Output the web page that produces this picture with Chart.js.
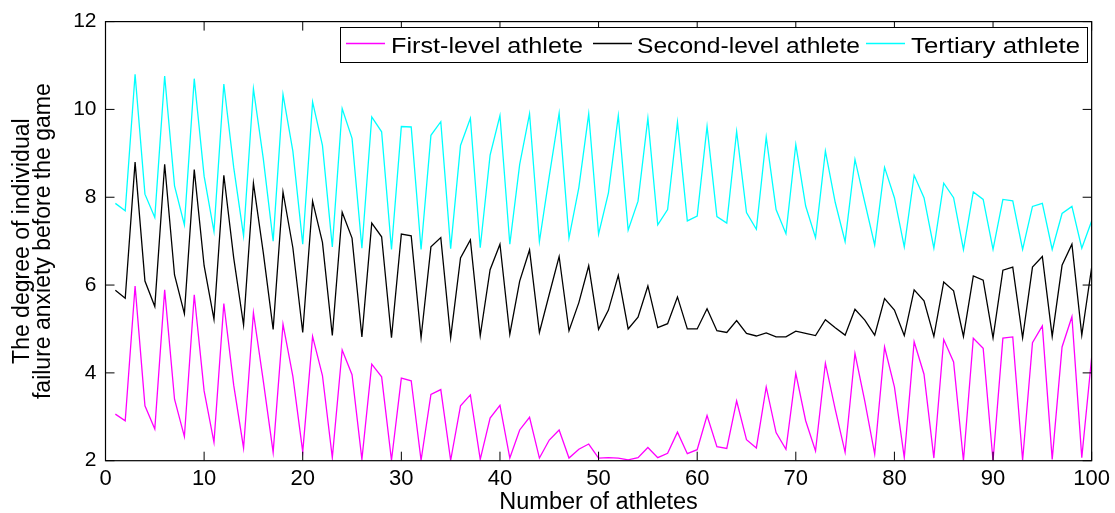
<!DOCTYPE html>
<html>
<head>
<meta charset="utf-8">
<script src="https://cdn.jsdelivr.net/npm/chart.js@4.4.0/dist/chart.umd.min.js"></script>
<style>
html,body{margin:0;padding:0;background:#fff;}
canvas{display:block;}
</style>
</head>
<body>
<canvas id="c" width="1115" height="513"></canvas>
<script>
// ---- data ----
const athletes = Array.from({length: 100}, (_, i) => i + 1);

const firstLevel = [
  3.06, 2.91, 5.98, 3.25, 2.72, 5.89, 3.40, 2.55, 5.78, 3.59,
  2.42, 5.58, 3.72, 2.29, 5.37, 3.82, 2.19, 5.11, 3.92, 2.20,
  4.83, 3.94, 2.07, 4.52, 3.96, 2.03, 4.20, 3.91, 2.01, 3.88,
  3.82, 2.01, 3.51, 3.62, 2.01, 3.25, 3.50, 2.03, 2.97, 3.26,
  2.06, 2.70, 2.99, 2.06, 2.47, 2.70, 2.06, 2.26, 2.38, 2.06,
  2.07, 2.06, 2.02, 2.07, 2.30, 2.07, 2.17, 2.65, 2.16, 2.25,
  3.03, 2.32, 2.28, 3.36, 2.48, 2.29, 3.68, 2.64, 2.26, 3.99,
  2.91, 2.22, 4.22, 3.17, 2.19, 4.44, 3.35, 2.15, 4.59, 3.68,
  2.07, 4.71, 3.97, 2.06, 4.76, 4.25, 2.00, 4.79, 4.56, 2.00,
  4.79, 4.82, 2.01, 4.69, 5.07, 2.03, 4.59, 5.28, 2.07, 4.35
];

const secondLevel = [
  5.88, 5.70, 8.80, 6.09, 5.51, 8.75, 6.23, 5.35, 8.63, 6.44,
  5.22, 8.50, 6.62, 5.09, 8.32, 6.74, 4.99, 8.12, 6.85, 4.92,
  7.91, 6.97, 4.85, 7.66, 7.07, 4.82, 7.41, 7.10, 4.80, 7.16,
  7.12, 4.80, 6.87, 7.08, 4.80, 6.62, 7.03, 4.85, 6.35, 6.93,
  4.88, 6.09, 6.80, 4.92, 5.79, 6.65, 4.96, 5.60, 6.44, 4.99,
  5.43, 6.22, 5.00, 5.27, 5.98, 5.03, 5.12, 5.73, 5.00, 5.00,
  5.46, 4.96, 4.92, 5.19, 4.90, 4.84, 4.91, 4.82, 4.82, 4.95,
  4.90, 4.85, 5.21, 5.03, 4.86, 5.45, 5.20, 4.86, 5.69, 5.43,
  4.85, 5.89, 5.64, 4.83, 6.07, 5.87, 4.83, 6.21, 6.11, 4.80,
  6.34, 6.41, 4.80, 6.41, 6.65, 4.83, 6.45, 6.93, 4.86, 6.40
];

const tertiary = [
  7.86, 7.69, 10.80, 8.07, 7.54, 10.76, 8.26, 7.37, 10.70, 8.48,
  7.22, 10.58, 8.68, 7.12, 10.47, 8.88, 7.00, 10.34, 9.05, 6.93,
  10.17, 9.18, 6.87, 10.02, 9.34, 6.84, 9.83, 9.49, 6.81, 9.61,
  9.60, 6.81, 9.41, 9.72, 6.83, 9.18, 9.80, 6.85, 8.96, 9.86,
  6.93, 8.75, 9.90, 6.99, 8.48, 9.91, 7.07, 8.22, 9.90, 7.16,
  8.10, 9.86, 7.25, 7.91, 9.80, 7.37, 7.72, 9.71, 7.46, 7.57,
  9.61, 7.56, 7.41, 9.50, 7.65, 7.27, 9.37, 7.72, 7.17, 9.20,
  7.80, 7.08, 9.05, 7.88, 6.99, 8.86, 7.88, 6.91, 8.68, 7.99,
  6.87, 8.50, 7.99, 6.84, 8.32, 7.99, 6.81, 8.12, 7.95, 6.81,
  7.95, 7.92, 6.81, 7.79, 7.86, 6.81, 7.63, 7.79, 6.84, 7.46
];

const seriesNames = ['First-level athlete', 'Second-level athlete', 'Tertiary athlete'];
const seriesColors = ['#ff00ff', '#000000', '#00ffff'];
const seriesValues = [firstLevel, secondLevel, tertiary];

const xTickValues = [0, 10, 20, 30, 40, 50, 60, 70, 80, 90, 100];
const yTickValues = [2, 4, 6, 8, 10, 12];

const xTitle = 'Number of athletes';
const yTitle = ['The degree of individual', 'failure anxiety before the game'];

// ---- rendering ----
const FONT = "'Liberation Sans', Arial, Helvetica, sans-serif";

const whiteBg = {
  id: 'whiteBg',
  beforeDraw(chart) {
    const ctx = chart.ctx;
    ctx.save();
    ctx.fillStyle = '#ffffff';
    ctx.fillRect(0, 0, chart.width, chart.height);
    ctx.restore();
  }
};

const boxAndLegend = {
  id: 'boxAndLegend',
  afterDraw(chart) {
    const ctx = chart.ctx;
    const {left, right, top, bottom} = chart.chartArea;
    const xs = chart.scales.x, ys = chart.scales.y;
    ctx.save();
    ctx.strokeStyle = '#000000';
    ctx.lineWidth = 1.2;
    ctx.strokeRect(left, top, right - left, bottom - top);
    const tl = 9;
    ctx.lineWidth = 1;
    ctx.beginPath();
    yTickValues.forEach(v => {
      const py = ys.getPixelForValue(v);
      ctx.moveTo(left, py); ctx.lineTo(left + tl, py);
      ctx.moveTo(right, py); ctx.lineTo(right - tl, py);
    });
    xTickValues.forEach(v => {
      const px = xs.getPixelForValue(v);
      ctx.moveTo(px, bottom); ctx.lineTo(px, bottom - tl);
      ctx.moveTo(px, top); ctx.lineTo(px, top + tl);
    });
    ctx.stroke();
    ctx.restore();

    // legend
    const box = {x: 340, y: 27, w: 747, h: 35};
    const items = [
      {lx: 346, tx: 391, tw: 192},
      {lx: 593, tx: 637, tw: 223},
      {lx: 866, tx: 911, tw: 169}
    ];
    ctx.save();
    ctx.fillStyle = '#ffffff';
    ctx.fillRect(box.x, box.y, box.w, box.h);
    ctx.strokeStyle = '#000000';
    ctx.lineWidth = 1;
    ctx.strokeRect(box.x + 0.5, box.y + 0.5, box.w, box.h);
    ctx.restore();
    for (let k = 0; k < items.length; k++) {
      const it = items[k];
      ctx.save();
      ctx.beginPath();
      ctx.strokeStyle = seriesColors[k];
      ctx.lineWidth = 1.3;
      ctx.moveTo(it.lx, 43.5);
      ctx.lineTo(it.lx + 39, 43.5);
      ctx.stroke();
      ctx.restore();

      ctx.save();
      ctx.font = '22px ' + FONT;
      ctx.textBaseline = 'alphabetic';
      ctx.textAlign = 'left';
      const w = ctx.measureText(seriesNames[k]).width;
      ctx.translate(it.tx, 52.5);
      ctx.scale(it.tw / w, 1);
      ctx.fillStyle = '#000000';
      ctx.fillText(seriesNames[k], 0, 0);
      ctx.restore();
    }
  }
};

new Chart(document.getElementById('c'), {
  type: 'line',
  data: {
    datasets: seriesValues.map((vals, k) => ({
      label: seriesNames[k],
      data: athletes.map((a, i) => ({x: a, y: vals[i]})),
      borderColor: seriesColors[k],
      backgroundColor: seriesColors[k],
      borderWidth: 1.3,
      pointRadius: 0,
      tension: 0,
      fill: false
    }))
  },
  options: {
    responsive: false,
    animation: false,
    devicePixelRatio: 1,
    layout: {padding: {left: 0, top: 20.5, right: 23, bottom: 0}},
    plugins: {legend: {display: false}, tooltip: {enabled: false}},
    scales: {
      x: {
        type: 'linear',
        min: 0, max: 100,
        afterFit(s) { s.height = 52.3; },
        afterBuildTicks(s) { s.ticks = xTickValues.map(v => ({value: v})); },
        grid: {display: false, drawTicks: false},
        border: {display: false},
        ticks: {color: '#000', font: {family: FONT, size: 22}, padding: 5, maxRotation: 0, autoSkip: false},
        title: {display: true, text: xTitle, color: '#000', font: {family: FONT, size: 23.5, lineHeight: 1}, padding: {top: 0, bottom: -1}}
      },
      y: {
        min: 2, max: 12,
        afterFit(s) { s.width = 105.5; },
        afterBuildTicks(s) { s.ticks = yTickValues.map(v => ({value: v})); },
        grid: {display: false, drawTicks: false},
        border: {display: false},
        ticks: {color: '#000', font: {family: FONT, size: 21}, padding: 9, autoSkip: false},
        title: {display: true, text: yTitle, color: '#000', font: {family: FONT, size: 23, lineHeight: 0.93}, padding: {top: 11.5, bottom: 0}}
      }
    }
  },
  plugins: [whiteBg, boxAndLegend]
});
</script>
</body>
</html>
